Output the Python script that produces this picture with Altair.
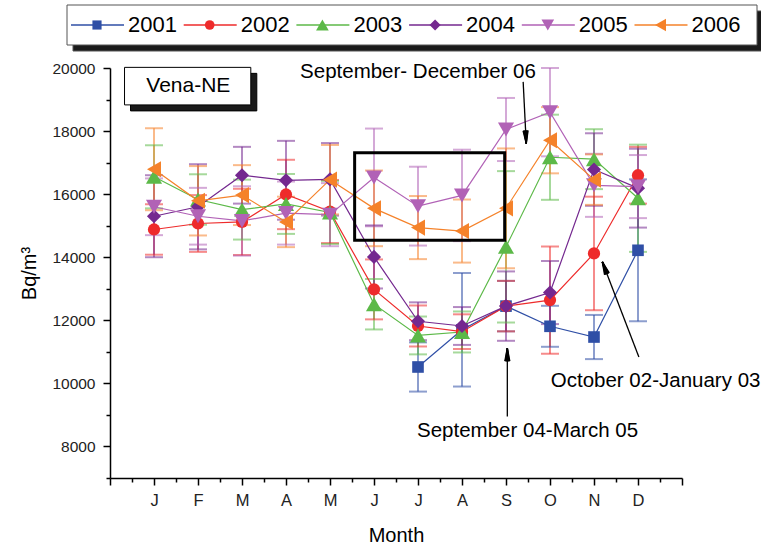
import math
import altair as alt
import pandas as pd

# ---------------- data ----------------
months = list(range(1, 13))
month_labels = ["J", "F", "M", "A", "M", "J", "J", "A", "S", "O", "N", "D"]
years = ["2001", "2002", "2003", "2004", "2005", "2006"]
colors = ["#2f4fa6", "#ee2b2b", "#5cb948", "#74288f", "#b162b6", "#f5822a"]
shapes = ["square", "circle", "triangle-up", "diamond", "triangle-down", "triangle-left"]
marker_sizes = [135, 150, 260, 200, 260, 260]

v2001 = [None, None, None, None, None, None, 10520, 11700, 12450, 11810, 11470, 14220]
e2001 = [None, None, None, None, None, None, 780, 1800, 800, 650, 700, 2250]
v2002 = [14880, 15070, 15120, 15990, 15450, 12980, 11820, 11640, 12450, 12640, 14120, 16600]
e2002 = [800, 900, 1050, 1100, 1000, 950, 650, 550, 800, 1700, 1800, 900]
v2003 = [16550, 15830, 15510, 15690, 15420, 12510, 11520, 11630, 14330, 17170, 17110, 15870]
e2003 = [1000, 800, 950, 950, 1000, 800, 600, 650, 2400, 1350, 950, 1700]
v2004 = [15300, 15600, 16600, 16440, 16470, 14010, 11970, 11820, 12450, 12880, 16780, 16190]
e2004 = [1300, 1350, 900, 1250, 1150, 1000, 600, 600, 1100, 1000, 1150, 1250]
v2005 = [15600, 15300, 15150, 15400, 15350, 16530, 15620, 15960, 18050, 18600, 16280, 16240]
e2005 = [900, 900, 1100, 1000, 1000, 1550, 1250, 1450, 1000, 1400, 1000, 1000]
v2006 = [16790, 15790, 15970, 15120, 16460, 15550, 14940, 14830, 15550, 17710, 16460, None]
e2006 = [1300, 1100, 950, 800, 1100, 1200, 1000, 1000, 1900, 1050, 800, None]

values = [v2001, v2002, v2003, v2004, v2005, v2006]
errors = [e2001, e2002, e2003, e2004, e2005, e2006]

# annotations (data units: month index, Bq/m3)
ann_text = ["Vena-NE", "September- December 06", "September 04-March 05", "October 02-January 03"]
ann_x = [1.78, 7.0, 9.49, 12.4]
ann_y = [19430, 19870, 8480, 10060]
ann_size = [21, 20.5, 20.5, 20.5]

arrow_x = [9.39, 9.03, 12.02]
arrow_y = [19560, 8950, 10835]
arrow_x2 = [9.46, 9.03, 11.19]
arrow_y2 = [17610, 11110, 13850]

hl_box = {"x": 5.56, "x2": 8.97, "y": 14540, "y2": 17310}
site_box = {"x": 0.33, "x2": 3.2, "y": 18830, "y2": 20020}

# ---------------- layout ----------------
W, H = 572, 410
PAD_L, PAD_T = 110, 68
XDOM = [0, 13]
YDOM = [7000, 20000]
PXX = W / (XDOM[1] - XDOM[0])
PXY = H / (YDOM[1] - YDOM[0])


def px_x(px):
    return XDOM[0] + (px - PAD_L) / PXX


def px_y(py):
    return YDOM[1] - (py - PAD_T) / PXY


size_of = dict(zip(years, marker_sizes))

rows = []
for yr, vals, errs in zip(years, values, errors):
    for m, v, e in zip(months, vals, errs):
        if v is None:
            continue
        rows.append({"year": yr, "month": m, "value": v, "lo": v - e, "hi": v + e, "msize": size_of[yr]})
df = pd.DataFrame(rows)
caps = pd.concat([
    df[["year", "month", "lo"]].rename(columns={"lo": "cap"}),
    df[["year", "month", "hi"]].rename(columns={"hi": "cap"}),
])

xs = alt.Scale(domain=XDOM, nice=False, zero=False)
ys = alt.Scale(domain=YDOM, nice=False, zero=False)
col = alt.Color("year:N", scale=alt.Scale(domain=years, range=colors), legend=None)
shp = alt.Shape("year:N", scale=alt.Scale(domain=years, range=shapes), legend=None)

FONT = "Liberation Sans"

label_expr = "datum.value >= 1 && datum.value <= 12 ? " + str(month_labels) + "[datum.value - 1] : ''"

x_major = alt.Axis(values=list(range(0, 14)), labelExpr=label_expr, tickSize=7, orient="bottom",
                   labelFontSize=16.5, labelPadding=7, titleFontSize=20, titlePadding=17,
                   titleFontWeight="normal", grid=False)
x_minor = alt.Axis(values=[i + 0.5 for i in range(13)], labels=False, tickSize=4, orient="bottom",
                   domain=False, grid=False, title=None)
y_major = alt.Axis(values=list(range(8000, 20001, 2000)), format="d", tickSize=7, orient="left",
                   labelFontSize=15.5, labelPadding=8, titleFontSize=20, titlePadding=12,
                   titleFontWeight="normal", grid=False)
y_minor = alt.Axis(values=list(range(7000, 20000, 2000)), labels=False, tickSize=4, orient="left",
                   domain=False, grid=False, title=None)

# error bars
err_rule = alt.Chart(df).mark_rule(strokeWidth=2, opacity=0.55).encode(
    x=alt.X("month:Q", scale=xs, axis=x_minor),
    y=alt.Y("lo:Q", scale=ys, axis=y_minor),
    y2="hi:Q",
    color=col,
)
err_caps = alt.Chart(caps).mark_tick(orient="horizontal", size=18, thickness=2, opacity=0.55).encode(
    x=alt.X("month:Q", scale=xs, axis=None),
    y=alt.Y("cap:Q", scale=ys, axis=None),
    color=col,
)
lines = alt.Chart(df).mark_line(strokeWidth=1.2).encode(
    x=alt.X("month:Q", scale=xs, axis=x_major, title="Month"),
    y=alt.Y("value:Q", scale=ys, axis=y_major, title="Bq/m³"),
    color=col,
    detail="year:N",
)
points = alt.Chart(df).mark_point(filled=True, opacity=1).encode(
    x=alt.X("month:Q", scale=xs, axis=None),
    y=alt.Y("value:Q", scale=ys, axis=None),
    color=col,
    shape=shp,
    size=alt.Size("msize:Q", scale=None, legend=None),
)

# site label box with shadow
sx, sy = 6 / PXX, 6 / PXY
site_df = pd.DataFrame([
    {"x": site_box["x"] + sx, "x2": site_box["x2"] + sx, "y": site_box["y"] - sy, "y2": site_box["y2"] - sy, "k": "shadow"},
    {"x": site_box["x"], "x2": site_box["x2"], "y": site_box["y"], "y2": site_box["y2"], "k": "box"},
])
site_rect = alt.Chart(site_df).mark_rect(strokeWidth=1, stroke="black").encode(
    x=alt.X("x:Q", scale=xs, axis=None), x2="x2:Q",
    y=alt.Y("y:Q", scale=ys, axis=None), y2="y2:Q",
    fill=alt.Fill("k:N", scale=alt.Scale(domain=["shadow", "box"], range=["#1a1a1a", "white"]), legend=None),
    order=alt.Order("k:N", sort="descending"),
)

hl_rect = alt.Chart(pd.DataFrame([hl_box])).mark_rect(stroke="black", strokeWidth=3, fillOpacity=0).encode(
    x=alt.X("x:Q", scale=xs, axis=None), x2="x2:Q",
    y=alt.Y("y:Q", scale=ys, axis=None), y2="y2:Q",
)

ann_df = pd.DataFrame({"t": ann_text, "x": ann_x, "y": ann_y, "s": ann_size})
ann = alt.Chart(ann_df).mark_text(font=FONT, color="black", align="center", baseline="middle").encode(
    x=alt.X("x:Q", scale=xs, axis=None),
    y=alt.Y("y:Q", scale=ys, axis=None),
    text="t:N",
    size=alt.Size("s:Q", scale=None, legend=None),
)

# arrows: shaft + narrow head drawn as a fan of short strokes from the tip
HEAD_LEN = 13.0   # px
HEAD_HALF_ANGLE = 11.0  # degrees
fan = []
for a, b, c, d in zip(arrow_x, arrow_y, arrow_x2, arrow_y2):
    dxp = (c - a) * PXX
    dyp = -(d - b) * PXY  # screen y grows downward
    base = math.atan2(-dyp, -dxp)  # direction from tip back toward tail (screen coords)
    steps = 9
    for k in range(steps):
        t = math.radians(-HEAD_HALF_ANGLE + 2 * HEAD_HALF_ANGLE * k / (steps - 1))
        bx = math.cos(base + t) * HEAD_LEN
        by = math.sin(base + t) * HEAD_LEN
        fan.append({"x": c, "y": d, "x2": c + bx / PXX, "y2": d - by / PXY})
fan_df = pd.DataFrame(fan)

arr_df = pd.DataFrame({"x": arrow_x, "y": arrow_y, "x2": arrow_x2, "y2": arrow_y2})
shafts = alt.Chart(arr_df).mark_rule(color="black", strokeWidth=1.3).encode(
    x=alt.X("x:Q", scale=xs, axis=None), x2="x2:Q",
    y=alt.Y("y:Q", scale=ys, axis=None), y2="y2:Q",
)
heads = alt.Chart(fan_df).mark_rule(color="black", strokeWidth=1.4).encode(
    x=alt.X("x:Q", scale=xs, axis=None), x2="x2:Q",
    y=alt.Y("y:Q", scale=ys, axis=None), y2="y2:Q",
)

# ---------------- legend (drawn as marks above the plot) ----------------
LEG_Y = 25
leg_mx = [97 + 112.7 * i for i in range(len(years))]
leg_df = pd.DataFrame({
    "year": years,
    "mx": [px_x(m) for m in leg_mx],
    "lx1": [px_x(m - 26) for m in leg_mx],
    "lx2": [px_x(m + 27) for m in leg_mx],
    "tx": [px_x(m + 31) for m in leg_mx],
    "y": [px_y(LEG_Y)] * len(years),
    "msize": [s * 0.62 for s in marker_sizes],
})
leg_box_df = pd.DataFrame([
    {"x": px_x(73), "x2": px_x(763), "y": px_y(11), "y2": px_y(51), "k": "shadow"},
    {"x": px_x(67), "x2": px_x(757), "y": px_y(5), "y2": px_y(45), "k": "box"},
])
leg_box = alt.Chart(leg_box_df).mark_rect(strokeWidth=1, stroke="#555555").encode(
    x=alt.X("x:Q", scale=xs, axis=None), x2="x2:Q",
    y=alt.Y("y:Q", scale=ys, axis=None), y2="y2:Q",
    fill=alt.Fill("k:N", scale=alt.Scale(domain=["shadow", "box"], range=["#111111", "white"]), legend=None),
    order=alt.Order("k:N", sort="descending"),
)
leg_lines = alt.Chart(leg_df).mark_rule(strokeWidth=1.3).encode(
    x=alt.X("lx1:Q", scale=xs, axis=None), x2="lx2:Q",
    y=alt.Y("y:Q", scale=ys, axis=None),
    color=col,
)
leg_pts = alt.Chart(leg_df).mark_point(filled=True, opacity=1).encode(
    x=alt.X("mx:Q", scale=xs, axis=None),
    y=alt.Y("y:Q", scale=ys, axis=None),
    color=col,
    shape=shp,
    size=alt.Size("msize:Q", scale=None, legend=None),
)
leg_txt = alt.Chart(leg_df).mark_text(font=FONT, fontSize=22, align="left", baseline="middle", color="black").encode(
    x=alt.X("tx:Q", scale=xs, axis=None),
    y=alt.Y("y:Q", scale=ys, axis=None),
    text="year:N",
)

chart = alt.layer(
    err_rule, err_caps, lines, points, site_rect, hl_rect, ann, shafts, heads,
    leg_box, leg_lines, leg_pts, leg_txt,
).resolve_axis(x="independent", y="independent").properties(
    width=W, height=H,
    padding={"left": PAD_L, "top": PAD_T, "right": 761 - PAD_L - W, "bottom": 547 - PAD_T - H},
    autosize=alt.AutoSizeParams(type="none"),
).configure_view(stroke=None).configure_axis(
    domainColor="black", tickColor="black", labelColor="#222222", titleColor="black",
    labelFont=FONT, titleFont=FONT, domainWidth=1.5, tickWidth=1.5,
)

chart.save("out.html", embed_options={"renderer": "svg", "actions": False})
